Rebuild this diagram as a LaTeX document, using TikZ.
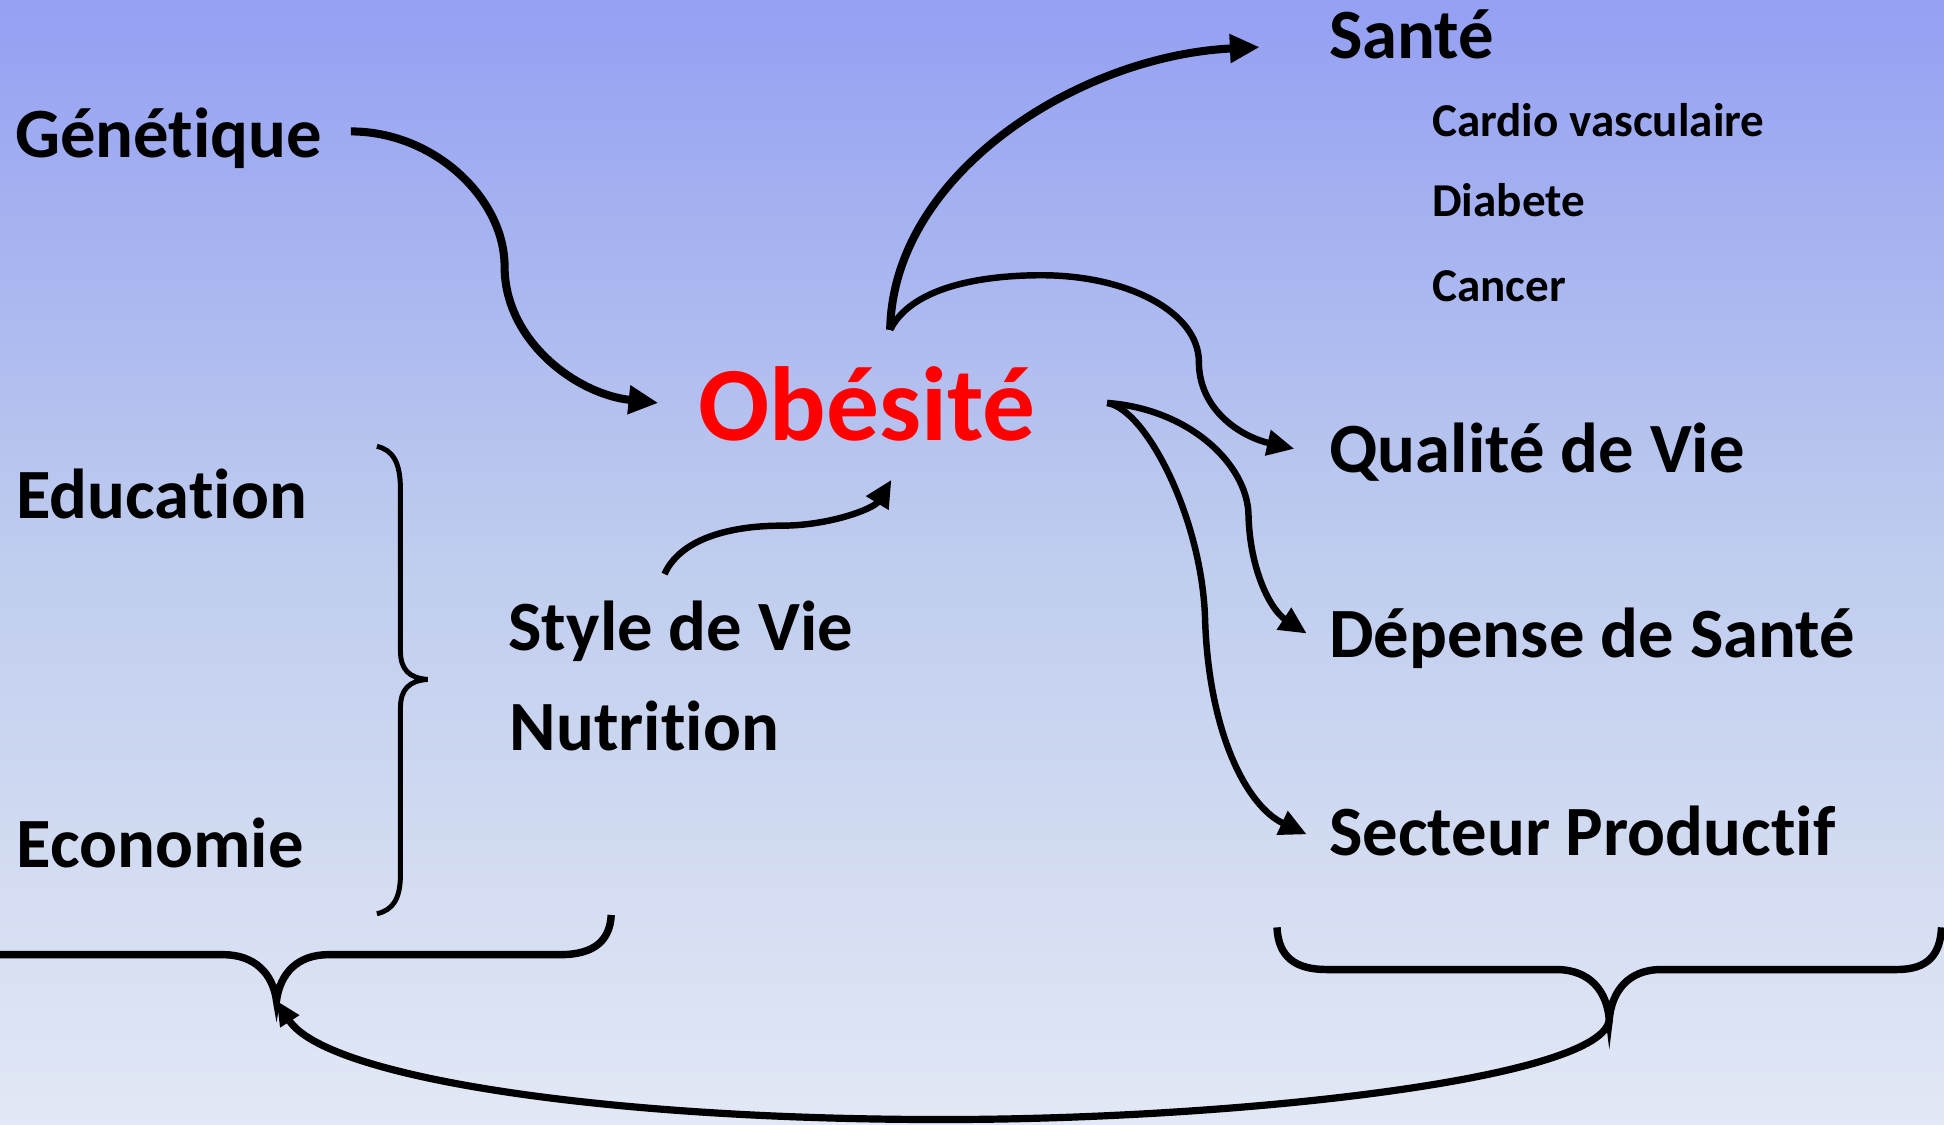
\documentclass[tikz,border=0pt]{standalone}
\usepackage{fontspec}
\setmainfont{Carlito}[Ligatures={NoCommon,NoRare,NoDiscretionary},RawFeature={-liga;-clig;-dlig}]
\usetikzlibrary{arrows.meta}
\definecolor{bgtop}{RGB}{148,160,242}
\definecolor{bgmid}{RGB}{192,205,238}
\definecolor{bgbot}{RGB}{226,232,245}
\begin{document}
\begin{tikzpicture}[x=1pt,y=-1pt,
  lbl/.style={anchor=base west,inner sep=0pt,font=\fontsize{57}{60}\selectfont\bfseries},
  sub/.style={anchor=base west,inner sep=0pt,font=\fontsize{38}{40}\selectfont\bfseries},
  conn/.style={line width=6.5pt,-{Triangle[length=24pt,width=22pt]}},
  connsm/.style={line width=5.2pt,-{Triangle[length=22pt,width=20pt]}},
  bracev/.style={line width=4pt},
  braceh/.style={line width=6pt}]
\shade[top color=bgtop,bottom color=bgbot,middle color=bgmid] (0,0) rectangle (1568,907);
\useasboundingbox (0,0) rectangle (1568,907);

% texts
\node[lbl] (gen) at (12,127) {Génétique};
\node[anchor=base west,inner sep=0pt,text=red,font=\fontsize{85}{90}\selectfont\bfseries] (obe) at (563,355) {Obésité};
\node[lbl] (sante) at (1072,47) {Santé};
\node[sub] (cardio) at (1155,110) {Cardio vasculaire};
\node[sub] (diab) at (1155,175) {Diabete};
\node[sub] (cancer) at (1155,243) {Cancer};
\node[lbl] (qual) at (1072,381) {Qualité de Vie};
\node[lbl] (dep) at (1072,530) {Dépense de Santé};
\node[lbl] (sect) at (1072,690) {Secteur Productif};
\node[lbl] (edu) at (13,418) {Education};
\node[lbl] (eco) at (13,700) {Economie};
\node[lbl] (style) at (410,525) {Style de Vie};
\node[lbl] (nutr) at (411,605) {Nutrition};

% connector end points
\coordinate (g1) at (283,106);
\coordinate (g2) at (531,325);
\coordinate (o1) at (718,266);
\coordinate (s2) at (1016,38);
\coordinate (q2) at (1044,362);
\coordinate (o2) at (893,325);
\coordinate (d2) at (1054,511);
\coordinate (p2) at (1054,673);
\coordinate (st1) at (536,463);
\coordinate (st2) at (719,387);
\coordinate (lb) at (223,807);
\coordinate (rb) at (1298,822);

% arrows
\draw[conn] (g1) .. controls (350,106) and (407,160) .. (407,215)
  .. controls (407,275) and (465,318) .. (g2);
\draw[conn] (o1) .. controls (720,140) and (870,45) .. (s2);
\draw[connsm] (o1) .. controls (735,232) and (790,222) .. (840,222)
  .. controls (910,222) and (967,252) .. (967,292)
  .. controls (967,330) and (1000,352) .. (q2);
\draw[connsm] (o2) .. controls (960,330) and (1006,375) .. (1007,415)
  .. controls (1008,460) and (1025,492) .. (d2);
\draw[connsm] (o2) .. controls (925,330) and (970,420) .. (972,500)
  .. controls (975,590) and (1005,650) .. (p2);
\draw[connsm] (st1) .. controls (550,432) and (595,424) .. (630,424)
  .. controls (670,424) and (705,410) .. (st2);

% braces
\draw[bracev] (304,360) .. controls (317,363) and (323,373) .. (323,395) -- (323,525)
  .. controls (323,540) and (330,547) .. (345,548)
  .. controls (330,549) and (323,556) .. (323,571) -- (323,705)
  .. controls (323,725) and (317,734) .. (304,737);
\draw[braceh] (0,770) -- (180,770) .. controls (205,770) and (220,785) .. (lb)
  .. controls (226,785) and (240,770) .. (265,770) -- (452,770)
  .. controls (480,770) and (492,758) .. (493,738);
\draw[braceh] (1030,748) .. controls (1031,772) and (1045,782) .. (1070,782) -- (1255,782)
  .. controls (1283,782) and (1296,800) .. (rb)
  .. controls (1300,800) and (1313,782) .. (1340,782) -- (1530,782)
  .. controls (1555,782) and (1565,770) .. (1566,748);

% feedback
\draw[line width=5.8pt,-{Triangle[length=20pt,width=17pt]}] (rb) .. controls (1295,870) and (1000,903) .. (760,903)
  .. controls (480,903) and (262,868) .. (lb);
\end{tikzpicture}
\end{document}
